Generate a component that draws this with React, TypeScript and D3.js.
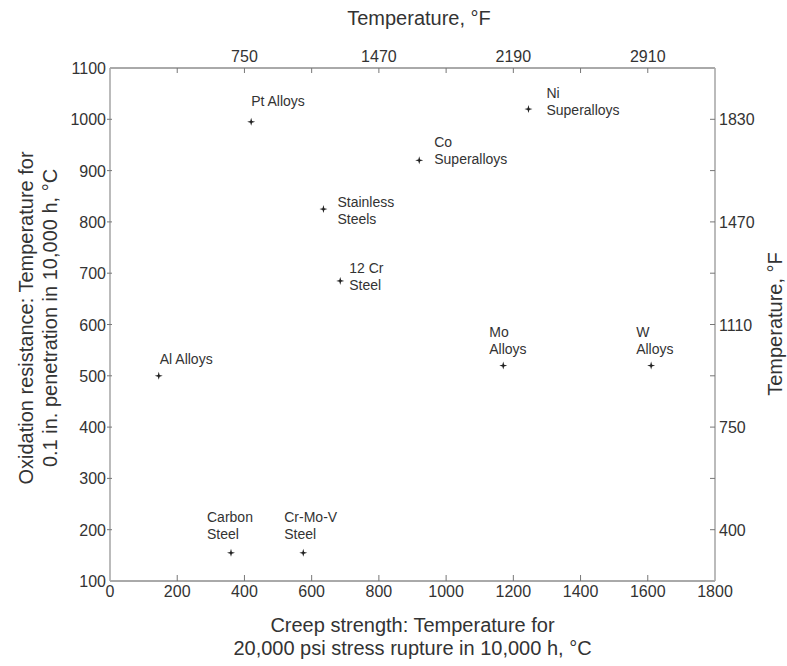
import React from "react";
import * as d3 from "d3";

// ---- data ----
const materials = [
  "Pt Alloys",
  "Ni Superalloys",
  "Co Superalloys",
  "Stainless Steels",
  "12 Cr Steel",
  "Al Alloys",
  "Mo Alloys",
  "W Alloys",
  "Carbon Steel",
  "Cr-Mo-V Steel",
];
const labelLines = [
  ["Pt Alloys"],
  ["Ni", "Superalloys"],
  ["Co", "Superalloys"],
  ["Stainless", "Steels"],
  ["12 Cr", "Steel"],
  ["Al Alloys"],
  ["Mo", "Alloys"],
  ["W", "Alloys"],
  ["Carbon", "Steel"],
  ["Cr-Mo-V", "Steel"],
];
const creepStrength = [420, 1245, 920, 635, 685, 145, 1170, 1610, 360, 575];
const oxidationResistance = [995, 1020, 920, 825, 685, 500, 520, 520, 155, 155];

const xTicks = [0, 200, 400, 600, 800, 1000, 1200, 1400, 1600, 1800];
const yTicks = [100, 200, 300, 400, 500, 600, 700, 800, 900, 1000, 1100];
const topTickValues = [200, 400, 600, 800, 1000, 1200, 1400, 1600];
const topLabelValues = [400, 800, 1200, 1600];
const topLabels = ["750", "1470", "2190", "2910"];
const rightTickValues = [200, 300, 400, 500, 600, 700, 800, 900, 1000];
const rightLabelValues = [200, 400, 600, 800, 1000];
const rightLabels = ["400", "750", "1110", "1470", "1830"];

// label placement (dx, dy of first baseline relative to marker)
const labelOffsets: [number, number][] = [
  [0, -16],
  [18, -11],
  [15, -13],
  [14, -2],
  [9, -8],
  [1, -12],
  [-14, -29],
  [-15, -29],
  [-24, -31],
  [-19, -31],
];

const W = 787;
const H = 666;
const L = 110, R = 715, T = 68, B = 581;
const FONT = "'Liberation Sans', Arial, Helvetica, sans-serif";
const TEXT = "#333";

const starSymbol = {
  draw(ctx: any, size: number) {
    const r = Math.sqrt(size);
    const k = r * 0.22;
    ctx.moveTo(0, -r);
    ctx.lineTo(k, -k);
    ctx.lineTo(r, 0);
    ctx.lineTo(k, k);
    ctx.lineTo(0, r);
    ctx.lineTo(-k, k);
    ctx.lineTo(-r, 0);
    ctx.lineTo(-k, -k);
    ctx.closePath();
  },
};

export default function App() {
  const x = d3.scaleLinear().domain([0, 1800]).range([L, R]);
  const y = d3.scaleLinear().domain([100, 1100]).range([B, T]);
  const sym = d3.symbol().type(starSymbol as any).size(16)() as string;

  return (
    <svg width={W} height={H} style={{ display: "block", position: "absolute", left: 0, top: 0, background: "#fff" }} fontFamily={FONT}>
      {/* axes lines */}
      <line x1={L} x2={R} y1={T} y2={T} stroke="#555" strokeWidth={1} />
      <line x1={L} x2={R} y1={B} y2={B} stroke="#555" strokeWidth={1} />
      <line x1={L} x2={L} y1={T} y2={B} stroke="#aaa" strokeWidth={1.6} />
      <line x1={R} x2={R} y1={T} y2={B} stroke="#aaa" strokeWidth={1.6} />

      {/* bottom axis */}
      {xTicks.map((v) => (
        <g key={"bx" + v}>
          {v > 0 && v < 1800 && <line x1={x(v)} x2={x(v)} y1={B} y2={B - 6} stroke="#777" />}
          <text x={x(v)} y={B + 16} textAnchor="middle" fontSize={16} fill={TEXT}>{v}</text>
        </g>
      ))}

      {/* left axis */}
      {yTicks.map((v) => (
        <g key={"ly" + v}>
          {v > 100 && v < 1100 && <line x1={L - 3} x2={L + 2} y1={y(v)} y2={y(v)} stroke="#777" />}
          <text x={L - 4} y={y(v) + 6} textAnchor="end" fontSize={16} fill={TEXT}>{v}</text>
        </g>
      ))}

      {/* top axis */}
      {topTickValues.map((v) => (
        <line key={"tt" + v} x1={x(v)} x2={x(v)} y1={T} y2={T + 5} stroke="#777" />
      ))}
      {topLabelValues.map((v, i) => (
        <text key={"tl" + v} x={x(v)} y={T - 6} textAnchor="middle" fontSize={16} fill={TEXT}>{topLabels[i]}</text>
      ))}

      {/* right axis */}
      {rightTickValues.map((v) => (
        <line key={"rt" + v} x1={R - 5} x2={R} y1={y(v)} y2={y(v)} stroke="#777" />
      ))}
      {rightLabelValues.map((v, i) => (
        <text key={"rl" + v} x={R + 4} y={y(v) + 6} textAnchor="start" fontSize={16} fill={TEXT}>{rightLabels[i]}</text>
      ))}

      {/* axis titles */}
      <text x={419} y={25} textAnchor="middle" fontSize={20} fill={TEXT}>Temperature, °F</text>
      <text x={(L + R) / 2} y={632} textAnchor="middle" fontSize={20} fill={TEXT}>Creep strength: Temperature for</text>
      <text x={(L + R) / 2} y={655} textAnchor="middle" fontSize={20} fill={TEXT}>20,000 psi stress rupture in 10,000 h, °C</text>
      <g transform={`translate(33, 318) rotate(-90)`}>
        <text x={0} y={0} textAnchor="middle" fontSize={20} fill={TEXT}>Oxidation resistance: Temperature for</text>
        <text x={0} y={24} textAnchor="middle" fontSize={20} fill={TEXT}>0.1 in. penetration in 10,000 h, °C</text>
      </g>
      <text transform={`translate(782, 324) rotate(-90)`} textAnchor="middle" fontSize={20} fill={TEXT}>Temperature, °F</text>

      {/* points */}
      {materials.map((m, i) => {
        const px = x(creepStrength[i]);
        const py = y(oxidationResistance[i]);
        const [dx, dy] = labelOffsets[i];
        return (
          <g key={m}>
            <path d={sym} transform={`translate(${px},${py})`} fill="#222" />
            {labelLines[i].map((ln, j) => (
              <text key={j} x={px + dx} y={py + dy + j * 17} fontSize={14} fill={TEXT}>{ln}</text>
            ))}
          </g>
        );
      })}
    </svg>
  );
}
